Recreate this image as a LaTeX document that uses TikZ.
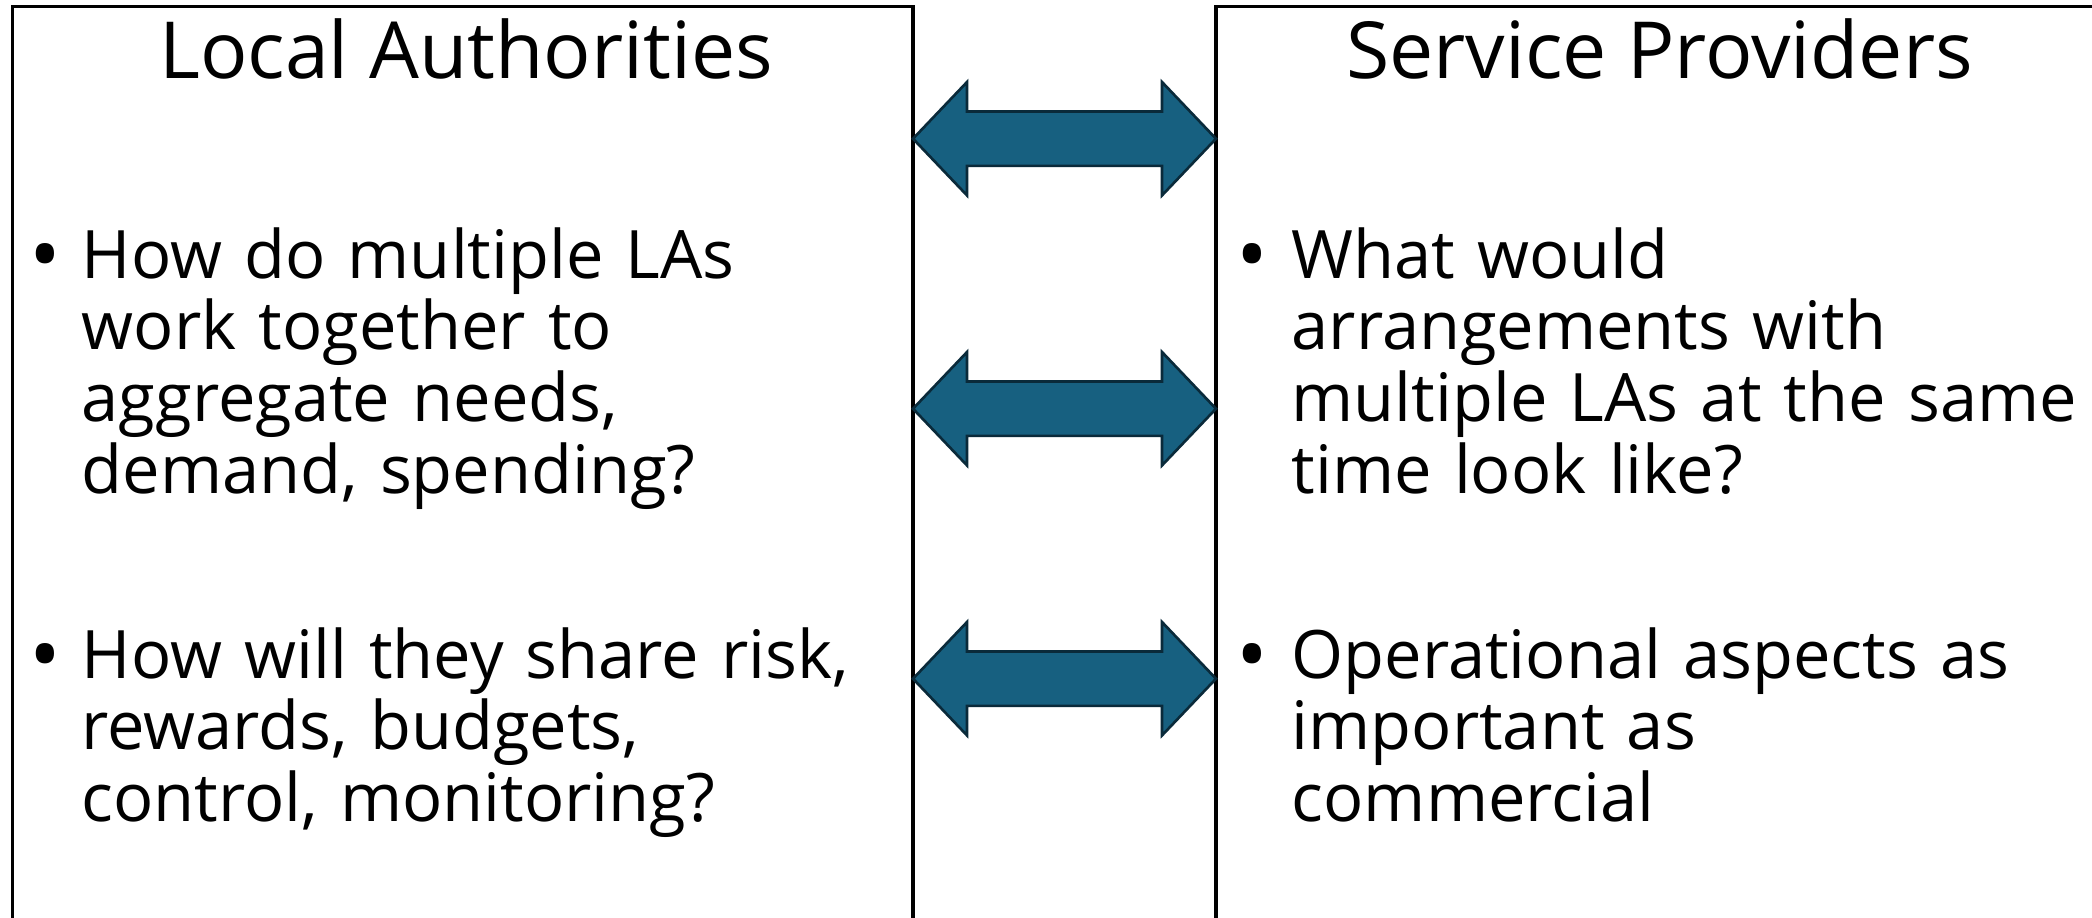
\documentclass[tikz,border=0pt]{standalone}
\usepackage{fontspec}
\setmainfont{Open Sans}
\usetikzlibrary{positioning}
\definecolor{arrowfill}{RGB}{23,96,128}
\definecolor{arrowline}{RGB}{10,42,58}

\begin{document}
\begin{tikzpicture}[
x=0.01cm, y=-0.01cm,
font=\fontsize{19}{20.4}\selectfont,
panel/.style={draw=black, line width=0.95pt},
title/.style={anchor=base, inner sep=0pt, font=\fontsize{22.4}{24}\selectfont},
point/.style={anchor=base west, inner sep=0pt, text width=10cm, align=left},
dot/.style={anchor=center, inner sep=0pt, font=\fontsize{24}{24}\selectfont},
twoway/.style={fill=arrowfill, draw=arrowline, line width=0.75pt, line join=miter}
]
    % Page
    \clip (0,0) rectangle (2092,917);

    \draw
    (12.7,6.7) coordinate (LA)
    (913,6.7) coordinate (LA2)
    (1216,6.7) coordinate (SP)
    (2200,6.7) coordinate (SP2);

    % Panels
    \draw[panel] (LA |- 0,1000) -- (LA) -- (LA2) -- (LA2 |- 0,1000);
    \draw[panel] (SP |- 0,1000) -- (SP) -- (SP2);

    % Arrows between panels
    \foreach \y in {138.7, 408.7, 678.7}
      \draw[twoway] (913,\y) -- (967,\y-56.7) -- (967,\y-27.2) -- (1162,\y-27.2)
        -- (1162,\y-56.7) -- (1216,\y) -- (1162,\y+56.7) -- (1162,\y+27.2)
        -- (967,\y+27.2) -- (967,\y+56.7) -- cycle;

    \node[title] (latitle) at (466,78) {Local Authorities};
    \node[title] (sptitle) at (1659.5,78) {Service Providers};

    \node[dot] (ladot1) at (45,264) {•};
    \node[point] (lapoint1) at (81,278) {How do multiple LAs\\work together to\\aggregate needs,\\demand, spending?};
    \node[dot] (ladot2) at (45,664) {•};
    \node[point] (lapoint2) at (81,678) {How will they share risk,\\rewards, budgets,\\control, monitoring?};

    \node[dot] (spdot1) at (1252,264) {•};
    \node[point] (sppoint1) at (1291,278) {What would\\arrangements with\\multiple LAs at the same\\time look like?};
    \node[dot] (spdot2) at (1252,664) {•};
    \node[point] (sppoint2) at (1291,678) {Operational aspects as\\important as\\commercial};

\end{tikzpicture}
\end{document}
